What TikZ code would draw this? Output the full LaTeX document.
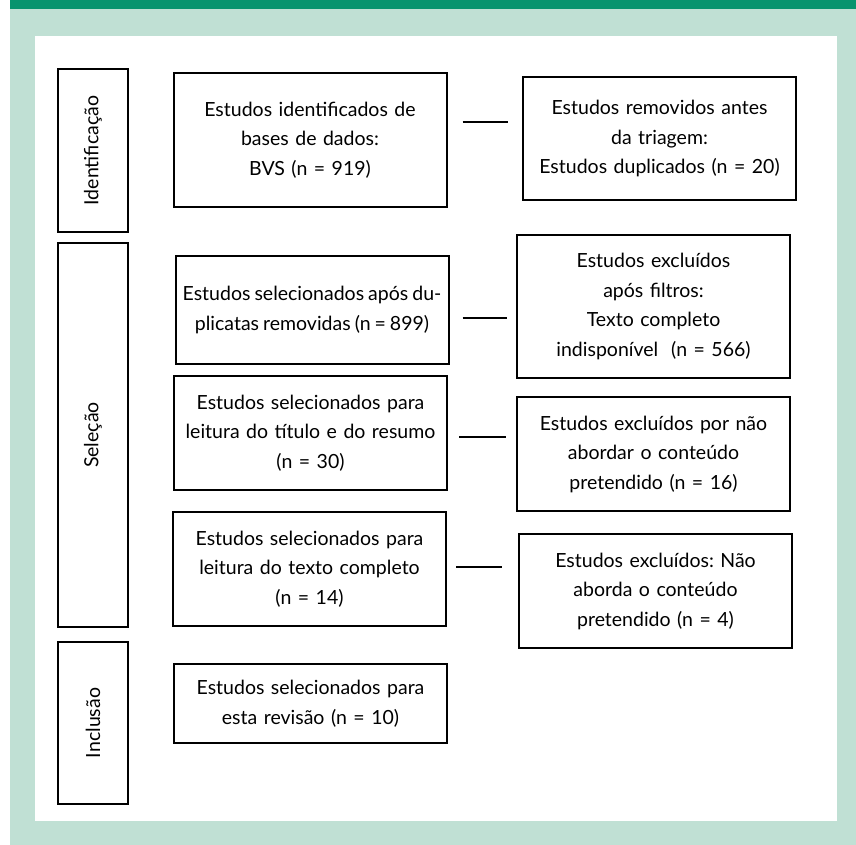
\documentclass[tikz,border=0pt]{standalone}
\usepackage{fontspec}
\setmainfont{Lato}
\frenchspacing
\usetikzlibrary{positioning}
\definecolor{bargreen}{RGB}{8,148,110}
\definecolor{panelgreen}{RGB}{192,224,212}

\begin{document}
\begin{tikzpicture}[x=1pt,y=-1pt,line width=2pt,
                    font=\fontsize{19.5}{29.5}\selectfont]
  \tikzstyle{box}=[draw, anchor=center, align=center, inner sep=2pt,
                   minimum width=273pt, text width=269pt]
  \tikzstyle{phase}=[draw, anchor=center, rotate=90, minimum height=70pt]
  \tikzstyle{gap}=[line width=2pt]

  % frame
  \useasboundingbox (0,0) rectangle (856,845);
  \fill[panelgreen] (10,0) rectangle (856,845);
  \fill[bargreen] (10,0) rectangle (856,9);
  \fill[white] (35,36) rectangle (837,821);

  % phases
  \node[phase, minimum width=163pt] (ID)  at (93,150.5) {Identificação};
  \node[phase, minimum width=384pt] (SEL) at (93,435)   {Seleção};
  \node[phase, minimum width=162pt] (INC) at (93,723)   {Inclusão};

  % main column
  \node[box, minimum height=134pt] (A) at (310,140)
    {Estudos identificados de\\bases de dados:\\BVS (n = 919)};
  \node[box, minimum height=108pt, minimum width=272pt] (C) at (312,310)
    {\spaceskip=0.8\fontdimen2\font
     Estudos selecionados após du-\\plicatas removidas (n = 899)};
  \node[box, minimum height=114pt] (E) at (310.5,433)
    {Estudos selecionados para\\leitura do título e do resumo\\(n = 30)};
  \node[box, minimum height=114pt] (G) at (309.5,569)
    {Estudos selecionados para\\leitura do texto completo\\(n = 14)};
  \node[box, minimum height=79pt] (I) at (310.5,703.5)
    {Estudos selecionados para\\esta revisão (n = 10)};

  % side column
  \node[box, minimum height=123pt] (B) at (659.5,138.5)
    {Estudos removidos antes\\da triagem:\\Estudos duplicados (n = 20)};
  \node[box, minimum height=143pt] (D) at (653.5,306.5)
    {Estudos excluídos\\após filtros:\\Texto completo\\indisponível\ \ (n = 566)};
  \node[box, minimum height=114pt] (F) at (653.5,454)
    {Estudos excluídos por não\\abordar o conteúdo\\pretendido (n = 16)};
  \node[box, minimum height=114pt] (H) at (655.5,591)
    {Estudos excluídos: Não\\aborda o conteúdo\\pretendido (n = 4)};

  % dashes between columns
  \coordinate (ab) at ([yshift=18pt]A.east);
  \coordinate (cd) at ([yshift=-8pt]C.east);
  \coordinate (ef) at ([yshift=-4pt]E.east);
  \coordinate (gh) at ([yshift=2pt]G.east);
  \draw[gap, shorten <=15pt, shorten >=14pt] (ab) -- (ab -| B.west);
  \draw[gap, shorten <=13pt, shorten >=9pt]  (cd) -- (cd -| D.west);
  \draw[gap, shorten <=11pt, shorten >=10pt] (ef) -- (ef -| F.west);
  \draw[gap, shorten <=9pt,  shorten >=16pt] (gh) -- (gh -| H.west);
\end{tikzpicture}
\end{document}
